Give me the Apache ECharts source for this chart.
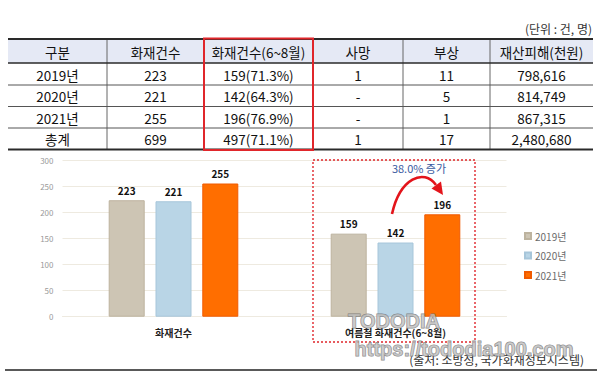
<!DOCTYPE html>
<html><head><meta charset="utf-8">
<script src="https://cdn.jsdelivr.net/npm/echarts@6/dist/echarts.min.js"></script>
<style>html,body{margin:0;padding:0;background:#fff;}#c{width:602px;height:371px;}</style>
</head><body><div id="c"></div>
<script>
// ---- data ----
const years = ['2019년', '2020년', '2021년'];
const categories = ['화재건수', '여름철 화재건수(6~8월)'];
const fires2019 = [223, 159];
const fires2020 = [221, 142];
const fires2021 = [255, 196];
const yMin = 0, yMax = 300, yStep = 50;

const tableHeader = ['구분', '화재건수', '화재건수(6~8월)', '사망', '부상', '재산피해(천원)'];
const row2019 = ['2019년', '223', '159(71.3%)', '1', '11', '798,616'];
const row2020 = ['2020년', '221', '142(64.3%)', '-', '5', '814,749'];
const row2021 = ['2021년', '255', '196(76.9%)', '-', '1', '867,315'];
const rowTotal = ['총계', '699', '497(71.1%)', '1', '17', '2,480,680'];
const unitText = '(단위 : 건, 명)';
const increaseText = '38.0% 증가';
const sourceText = '(출처: 소방청, 국가화재정보시스템)';
const watermark1 = 'TODODIA';
const watermark2 = 'https://tododia100.com';

// ---- layout ----
const FONT = '"Noto Sans CJK KR", "Noto Sans", sans-serif';
const colX = [8, 107, 204, 313, 403, 490, 593];
const rowY = [39, 63, 85, 106.5, 128, 149.5];
const rows = [tableHeader, row2019, row2020, row2021, rowTotal];

const g = [];
g.push({type: 'rect', shape: {x: colX[0], y: rowY[0], width: colX[6] - colX[0], height: rowY[1] - rowY[0]},
  style: {fill: '#E5E9F5'}, z: 1});
for (let i = 1; i < colX.length - 1; i++) {
  if (i === 2 || i === 3) continue;
  g.push({type: 'line', shape: {x1: colX[i], y1: rowY[0], x2: colX[i], y2: rowY[5]},
    style: {stroke: '#666', lineWidth: 1}, z: 2});
}
rowY.forEach((y, i) => {
  const w = (i === 0 || i === 5) ? 2 : (i === 1 ? 1.5 : 1);
  g.push({type: 'line', shape: {x1: colX[0], y1: y, x2: colX[6], y2: y},
    style: {stroke: i === 0 || i === 5 || i === 1 ? '#2a2a2a' : '#555', lineWidth: w}, z: 2});
});
rows.forEach((r, ri) => {
  r.forEach((t, ci) => {
    g.push({type: 'text', x: (colX[ci] + colX[ci + 1]) / 2, y: (rowY[ri] + rowY[ri + 1]) / 2 + 0.5,
      style: {text: t, fill: '#111', font: '13.5px ' + FONT, align: 'center', verticalAlign: 'middle'}, z: 3});
  });
});
g.push({type: 'rect', shape: {x: colX[2], y: rowY[0] - 0.5, width: colX[3] - colX[2], height: rowY[5] - rowY[0] + 1},
  style: {fill: 'none', stroke: '#E0262B', lineWidth: 2}, z: 4});
g.push({type: 'text', x: 592, y: 28, style: {text: unitText, fill: '#333', font: '12px ' + FONT, align: 'right', verticalAlign: 'middle'}, z: 3});
g.push({type: 'rect', shape: {x: 313, y: 160, width: 162, height: 182},
  style: {fill: 'none', stroke: '#E0262B', lineWidth: 1.4, lineDash: [2, 2]}, z: 4});
g.push({type: 'bezierCurve', shape: {x1: 392, y1: 214, cpx1: 400, cpy1: 178, cpx2: 424, cpy2: 168, x2: 436, y2: 185},
  style: {stroke: '#E3141B', lineWidth: 2.6, fill: 'none'}, z: 5});
g.push({type: 'polygon', shape: {points: [[443, 195], [431.5, 188.5], [441, 181.5]]},
  style: {fill: '#E3141B'}, z: 5});
g.push({type: 'text', x: 419, y: 168, style: {text: increaseText, fill: '#3A5BA0', font: '11px ' + FONT, align: 'center', verticalAlign: 'middle'}, z: 5});
g.push({type: 'text', x: 584, y: 359, style: {text: sourceText, fill: '#333', font: '12px ' + FONT, align: 'right', verticalAlign: 'middle'}, z: 6});
g.push({type: 'line', shape: {x1: 5, y1: 370, x2: 597, y2: 370}, style: {stroke: '#222', lineWidth: 1.5}, z: 3});
g.push({type: 'text', x: 394, y: 321, style: {text: watermark1, fill: 'rgba(190,190,190,0.75)', stroke: 'rgba(110,110,110,0.8)', lineWidth: 1,
  font: 'bold 20px "Liberation Sans", Arial, sans-serif', align: 'center', verticalAlign: 'middle'}, z: 7});
g.push({type: 'text', x: 464, y: 349, style: {text: watermark2, fill: 'rgba(190,190,190,0.75)', stroke: 'rgba(110,110,110,0.8)', lineWidth: 1,
  font: 'bold 20px "Liberation Sans", Arial, sans-serif', align: 'center', verticalAlign: 'middle'}, z: 7});

const barColors = ['#CDC5B4', '#B9D5E6', '#FF6E00'];
const barBorders = ['#BDB39F', '#A7C6DA', '#F05A00'];
const seriesData = [fires2019, fires2020, fires2021];

const chart = echarts.init(document.getElementById('c'), null, {renderer: 'svg'});
chart.setOption({
  animation: false,
  grid: {left: 62.5, right: 95.5, top: 160, bottom: 54.3, containLabel: false},
  legend: {
    orient: 'vertical', left: 519, top: 226, itemWidth: 6, itemHeight: 6, itemGap: 9.5,
    icon: 'rect', textStyle: {fontSize: 10, color: '#6b6b6b', fontFamily: FONT, padding: [0, 0, 0, -1]},
    data: years
  },
  xAxis: {
    type: 'category', data: categories,
    axisLine: {lineStyle: {color: '#EEEAE0'}}, axisTick: {show: false},
    axisLabel: {fontSize: 10, fontWeight: 'bold', color: '#222', fontFamily: FONT, margin: 11}
  },
  yAxis: {
    type: 'value', min: yMin, max: yMax, interval: yStep,
    axisLine: {show: false}, axisTick: {show: false},
    axisLabel: {fontSize: 8, color: '#9a9a9a', margin: 9, fontFamily: FONT},
    splitLine: {lineStyle: {color: '#EEEAE0', width: 1}}
  },
  series: years.map((y, i) => ({
    name: y, type: 'bar', data: seriesData[i], barWidth: 36, barGap: '30%',
    itemStyle: {color: barColors[i], borderColor: barBorders[i], borderWidth: 1},
    label: {show: true, position: 'top', distance: 5, fontSize: 10, fontWeight: 'bold', color: '#111', fontFamily: FONT}
  })),
  graphic: g
});
</script></body></html>
